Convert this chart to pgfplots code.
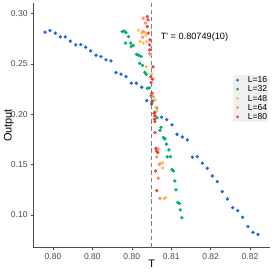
\documentclass[border=0pt]{standalone}
\usepackage{fontspec}
\setmainfont{Liberation Sans}
\usepackage{pgfplots}
\pgfplotsset{compat=1.18}
\definecolor{cA}{RGB}{31,100,230}
\definecolor{cB}{RGB}{0,175,110}
\definecolor{cC}{RGB}{255,190,80}
\definecolor{cD}{RGB}{250,140,110}
\definecolor{cE}{RGB}{245,60,60}
\pgfplotsset{pt/.style={only marks, mark=*, mark size=1.5bp, mark options={draw=none, fill=#1}, color=#1,
  legend image code/.code={\path[draw=none,fill=none] (0bp,-3bp) rectangle (8.6bp,3bp); \fill[#1,draw=none] (3.6bp,0bp) circle (1.5bp);}}}
\begin{document}
\begin{tikzpicture}
\useasboundingbox (-33.3bp,-25.3bp) rectangle (239.7bp,247.7bp);
\begin{axis}[
  scale only axis, width=236.7bp, height=244.4bp,
  xmin=0.7925, xmax=0.82254, ymin=0.0675, ymax=0.3103,
  axis x line*=bottom, axis y line*=left,
  axis line style={black!70, line width=0.7bp},
  xtick={0.795,0.8,0.805,0.81,0.815,0.82},
  xticklabels={0.80,0.80,0.80,0.81,0.82,0.82},
  ytick={0.1,0.15,0.2,0.25,0.3},
  yticklabels={0.10,0.15,0.20,0.25,0.30},
  tick align=outside, major tick length=2.2bp,
  tick style={black!70, line width=0.5bp},
  ticklabel style={font=\fontsize{8.6}{10}\selectfont, text=black!70},
  xlabel={T}, ylabel={Output},
  label style={font=\fontsize{11}{13}\selectfont},
  xlabel style={at={(axis description cs:0.5,-0.0638)}, anchor=center},
  ylabel style={at={(axis description cs:-0.1027,0.5)}, anchor=center},
  legend style={at={(axis description cs:0.8424,0.7066)}, anchor=north west,
    fill=black!6, draw=none, inner xsep=1bp, inner ysep=1bp,
    font=\fontsize{8.6}{10}\selectfont,
    nodes={inner sep=0pt, text height=6.4bp, text depth=1.2bp},
    row sep=1.6bp,
    /tikz/every odd column/.append style={column sep=5.3bp}},
  legend cell align=left,
  clip=false,
]
\addplot[forget plot, black!50, line width=1.4bp, dash pattern=on 4.5bp off 2.8bp] coordinates {(0.80749,0.0675) (0.80749,0.3103)};
\addplot[pt=cA] coordinates {
(0.79399,0.2816) (0.79462,0.2832) (0.79529,0.2806) (0.79593,0.2769) (0.79656,0.2769) (0.79720,0.2727) (0.79788,0.2690) (0.79852,0.2693) (0.79915,0.2667) (0.79978,0.2630) (0.80046,0.2587) (0.80109,0.2574) (0.80173,0.2541) (0.80236,0.2531) (0.80300,0.2415) (0.80363,0.2399) (0.80426,0.2375) (0.80494,0.2309) (0.80557,0.2309) (0.80626,0.2269) (0.80689,0.2136) (0.80753,0.2103) (0.80816,0.2064) (0.80879,0.1971) (0.80943,0.1947) (0.81010,0.1895) (0.81074,0.1802) (0.81141,0.1775) (0.81204,0.1746) (0.81268,0.1574) (0.81331,0.1580) (0.81395,0.1514) (0.81458,0.1464) (0.81522,0.1388) (0.81585,0.1331) (0.81648,0.1232) (0.81712,0.1159) (0.81780,0.1073) (0.81844,0.1043) (0.81907,0.0977) (0.81975,0.0884) (0.82038,0.0828) (0.82102,0.0808)
};
\addplot[pt=cB] coordinates {
(0.80379,0.2822) (0.80405,0.2826) (0.80426,0.2812) (0.80458,0.2772) (0.80420,0.2707) (0.80486,0.2707) (0.80494,0.2673) (0.80519,0.2685) (0.80560,0.2595) (0.80585,0.2587) (0.80617,0.2576) (0.80600,0.2506) (0.80636,0.2486) (0.80665,0.2417) (0.80684,0.2397) (0.80697,0.2257) (0.80722,0.2262) (0.80744,0.2183) (0.80769,0.2133) (0.80794,0.2021) (0.80820,0.1964) (0.80871,0.1870) (0.80858,0.1840) (0.80900,0.1770) (0.80921,0.1755) (0.80940,0.1703) (0.80972,0.1646) (0.80950,0.1577) (0.80991,0.1580) (0.81008,0.1452) (0.81027,0.1437) (0.81046,0.1338) (0.81061,0.1249) (0.81084,0.1124) (0.81103,0.1114) (0.81115,0.1050) (0.81135,0.0973)
};
\addplot[pt=cC] coordinates {
(0.80585,0.2834) (0.80623,0.2806) (0.80668,0.2812) (0.80680,0.2784) (0.80604,0.2725) (0.80646,0.2707) (0.80689,0.2723) (0.80737,0.2590) (0.80684,0.2471) (0.80753,0.2402) (0.80769,0.2208) (0.80794,0.2143) (0.80807,0.2071) (0.80816,0.2037) (0.80839,0.1656) (0.80864,0.1512) (0.80890,0.1519) (0.80892,0.1467) (0.80912,0.1162) (0.80930,0.1172)
};
\addplot[pt=cD] coordinates {
(0.80646,0.2955) (0.80674,0.2906) (0.80642,0.2822) (0.80638,0.2766) (0.80727,0.2603) (0.80773,0.2176) (0.80816,0.1577) (0.80849,0.1502) (0.80836,0.1365) (0.80858,0.1166)
};
\addplot[pt=cE] coordinates {
(0.80697,0.2971) (0.80706,0.2938) (0.80697,0.2872) (0.80709,0.2806) (0.80731,0.2740) (0.80727,0.2690) (0.80727,0.2640) (0.80769,0.2471) (0.80740,0.2375) (0.80765,0.2349) (0.80744,0.2315) (0.80753,0.2210) (0.80753,0.2126) (0.80782,0.2011) (0.80794,0.1984) (0.80786,0.1951) (0.80794,0.1927) (0.80794,0.1818) (0.80807,0.1663) (0.80816,0.1636) (0.80829,0.1619) (0.80803,0.1437) (0.80816,0.1242)
};
\legend{L=16,L=32,L=48,L=64,L=80}
\node[anchor=west, font=\fontsize{9.2}{11}\selectfont] at (axis cs:0.80824,0.2769) {T\textquotesingle{} = 0.80749(10)};
\end{axis}
\end{tikzpicture}
\end{document}
